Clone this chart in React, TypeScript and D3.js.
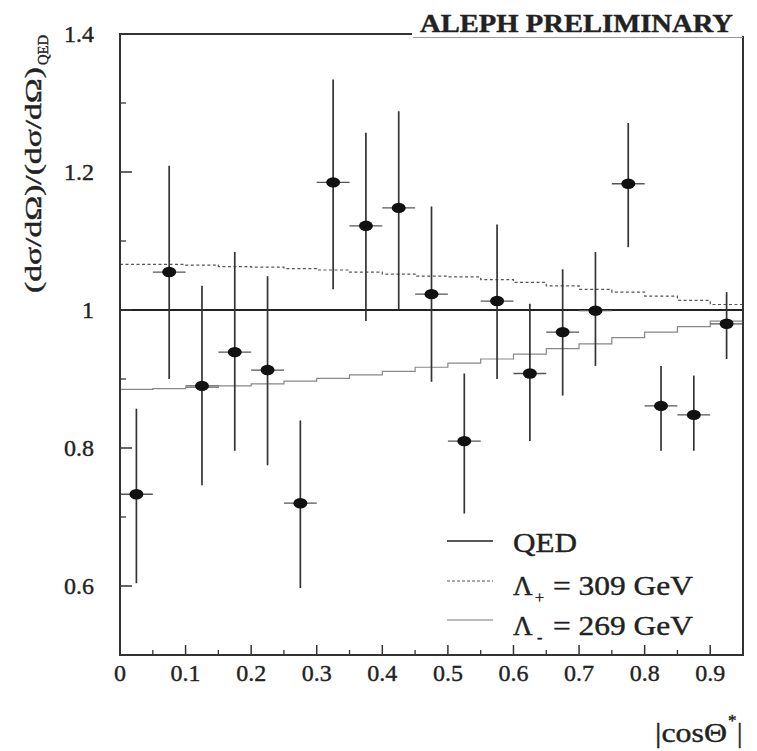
import React from "react";
import * as d3 from "d3";

const binCenters = [0.025, 0.075, 0.125, 0.175, 0.225, 0.275, 0.325, 0.375, 0.425, 0.475, 0.525, 0.575, 0.625, 0.675, 0.725, 0.775, 0.825, 0.875, 0.925];
const binEdges = [0, 0.05, 0.1, 0.15, 0.2, 0.25, 0.3, 0.35, 0.4, 0.45, 0.5, 0.55, 0.6, 0.65, 0.7, 0.75, 0.8, 0.85, 0.9, 0.95];
const ratio = [0.733, 1.055, 0.89, 0.939, 0.913, 0.72, 1.185, 1.122, 1.148, 1.023, 0.81, 1.013, 0.908, 0.968, 0.999, 1.183, 0.861, 0.848, 0.98];
const ratioHigh = [0.857, 1.209, 1.035, 1.084, 1.049, 0.84, 1.334, 1.257, 1.288, 1.15, 0.908, 1.124, 1.009, 1.059, 1.084, 1.271, 0.919, 0.905, 1.026];
const ratioLow = [0.604, 0.9, 0.746, 0.796, 0.775, 0.597, 1.03, 0.984, 1.0, 0.896, 0.705, 0.9, 0.81, 0.876, 0.919, 1.091, 0.796, 0.796, 0.929];
const lambdaPlus = [1.066, 1.066, 1.065, 1.063, 1.062, 1.06, 1.058, 1.055, 1.052, 1.049, 1.048, 1.044, 1.04, 1.035, 1.03, 1.026, 1.02, 1.014, 1.008];
const lambdaMinus = [0.885, 0.886, 0.888, 0.89, 0.893, 0.897, 0.901, 0.906, 0.911, 0.917, 0.923, 0.929, 0.936, 0.944, 0.951, 0.96, 0.968, 0.976, 0.984];
const xTicks = [0, 0.1, 0.2, 0.3, 0.4, 0.5, 0.6, 0.7, 0.8, 0.9];
const xMinor = [0.05, 0.15, 0.25, 0.35, 0.45, 0.55, 0.65, 0.75, 0.85];
const yTicks = [0.6, 0.8, 1, 1.2, 1.4];
const yMinor = [0.5, 0.7, 0.9, 1.1, 1.3];

const W = 757, H = 751;
const L = 120, R = 743, T = 34, B = 655;
const font = "'Liberation Serif', 'DejaVu Serif', serif";

export default function App() {
  const x = d3.scaleLinear().domain([0, 0.95]).range([L, R]);
  const y = d3.scaleLinear().domain([0.5, 1.4]).range([B, T]);
  const stepLine = d3.line<[number, number]>().x(d => x(d[0])).y(d => y(d[1])).curve(d3.curveStepAfter);
  const stepPts = (vals: number[]) => {
    const pts: [number, number][] = vals.map((v, i) => [binEdges[i], v]);
    pts.push([binEdges[binEdges.length - 1], vals[vals.length - 1]]);
    return pts;
  };
  const fmt = (v: number) => (v === 0 ? "0" : v === 1 ? "1" : String(v));
  const dark = "#222";
  const txt = { fill: "#222", stroke: "#222", strokeWidth: 0.4 };

  return (
    <svg width={W} height={H} style={{ position: "absolute", left: 0, top: 0, background: "#fff" }} fontFamily={font}>
      <rect x={0} y={0} width={W} height={H} fill="#fff" />
      {/* reference curves */}
      <line x1={x(0)} x2={x(0.95)} y1={y(1)} y2={y(1)} stroke={dark} strokeWidth={2} />
      <path d={stepLine(stepPts(lambdaPlus)) || ""} fill="none" stroke="#555" strokeWidth={1.2} strokeDasharray="3,2.5" />
      <path d={stepLine(stepPts(lambdaMinus)) || ""} fill="none" stroke="#888" strokeWidth={1.2} />
      {/* data points */}
      {binCenters.map((c, i) => (
        <g key={i}>
          <line x1={x(c - 0.025)} x2={x(c + 0.025)} y1={y(ratio[i])} y2={y(ratio[i])} stroke="#555" strokeWidth={1.3} />
          <line x1={x(c)} x2={x(c)} y1={y(ratioHigh[i])} y2={y(ratioLow[i])} stroke="#333" strokeWidth={1.7} />
          <ellipse cx={x(c)} cy={y(ratio[i])} rx={7} ry={5.2} fill="#111" />
        </g>
      ))}
      {/* frame */}
      <rect x={L} y={T} width={R - L} height={B - T} fill="none" stroke="#333" strokeWidth={2} />
      {/* x ticks */}
      {xTicks.map(t => (
        <g key={"xt" + t}>
          <line x1={x(t)} x2={x(t)} y1={B} y2={B - 10} stroke="#333" strokeWidth={1.5} />
          <text x={x(t)} y={681} textAnchor="middle" fontSize={24} {...txt}>{fmt(t)}</text>
        </g>
      ))}
      {xMinor.map(t => (
        <line key={"xm" + t} x1={x(t)} x2={x(t)} y1={B} y2={B - 5} stroke="#333" strokeWidth={1.3} />
      ))}
      {/* y ticks */}
      {yTicks.map(t => (
        <g key={"yt" + t}>
          <line x1={L} x2={L + 12} y1={y(t)} y2={y(t)} stroke="#333" strokeWidth={1.5} />
          <text x={94} y={y(t) + 8} textAnchor="end" fontSize={24} {...txt}>{fmt(t)}</text>
        </g>
      ))}
      {yMinor.map(t => (
        <line key={"ym" + t} x1={L} x2={L + 6} y1={y(t)} y2={y(t)} stroke="#333" strokeWidth={1.3} />
      ))}
      {/* title */}
      <rect x={412} y={8} width={332} height={28} fill="#fff" />
      <line x1={413} x2={743} y1={37.5} y2={37.5} stroke="#999" strokeWidth={1.2} />
      <text x={420} y={32} fontSize={26} fontWeight="bold" {...txt} textLength={313} lengthAdjust="spacingAndGlyphs">ALEPH PRELIMINARY</text>
      {/* y label */}
      <g transform="translate(41,165) rotate(-90)">
        <text x={-128} y={0} fontSize={24} {...txt} textLength={226} lengthAdjust="spacingAndGlyphs">(dσ/dΩ)/(dσ/dΩ)</text>
        <text x={100} y={7} fontSize={15} {...txt} textLength={30} lengthAdjust="spacingAndGlyphs">QED</text>
      </g>
      {/* x label */}
      <text x={655} y={742} fontSize={27} {...txt} textLength={72} lengthAdjust="spacingAndGlyphs">|cosΘ</text>
      <text x={728} y={726} fontSize={17} {...txt}>*</text>
      <text x={737} y={742} fontSize={27} {...txt}>|</text>
      {/* legend */}
      <line x1={447} x2={493} y1={541} y2={541} stroke={dark} strokeWidth={1.5} />
      <text x={513} y={552} fontSize={27} {...txt} textLength={64} lengthAdjust="spacingAndGlyphs">QED</text>
      <line x1={447} x2={493} y1={581} y2={581} stroke="#555" strokeWidth={1.2} strokeDasharray="3,2" />
      <text x={513} y={595} fontSize={27} {...txt}>Λ</text>
      <text x={535} y={603} fontSize={16} {...txt}>+</text>
      <text x={553} y={595} fontSize={27} {...txt} textLength={140} lengthAdjust="spacingAndGlyphs">= 309 GeV</text>
      <line x1={447} x2={493} y1={620} y2={620} stroke="#777" strokeWidth={1.2} />
      <text x={513} y={635} fontSize={27} {...txt}>Λ</text>
      <text x={537} y={643} fontSize={16} {...txt}>-</text>
      <text x={553} y={635} fontSize={27} {...txt} textLength={140} lengthAdjust="spacingAndGlyphs">= 269 GeV</text>
    </svg>
  );
}
